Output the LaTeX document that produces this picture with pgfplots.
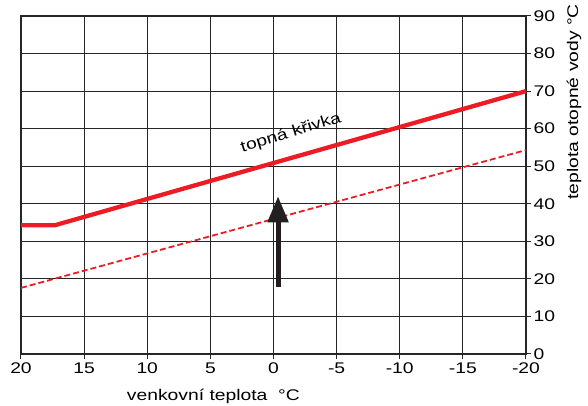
\documentclass[border=0pt]{standalone}
\usepackage{pgfplots}
\pgfplotsset{compat=1.18}
\usepackage{fontspec}
\setmainfont{Liberation Sans}[FakeStretch=1.25]
\usetikzlibrary{arrows.meta}
\definecolor{cred}{RGB}{237,28,36}
\definecolor{carrow}{RGB}{35,31,32}
\newcommand{\lf}{\fontsize{15.5}{17}\selectfont}
\begin{document}
\begin{tikzpicture}
\begin{axis}[
  scale only axis,
  width=505bp, height=338bp,
  xmin=-20, xmax=20, x dir=reverse,
  ymin=0, ymax=90,
  xtick={-20,-15,...,20},
  xticklabels={-20,-15,-10,-5,0,5,10,15,20},
  ytick={0,10,...,90},
  yticklabels={0,10,20,30,40,50,60,70,80,90},
  xtick pos=bottom, ytick pos=right,
  yticklabel pos=right,
  tick align=outside,
  major tick length=5bp,
  grid=major,
  grid style={black!85, line width=1bp},
  axis line style={black!85, line width=1.1bp},
  tick style={black!85, line width=1bp},
  tick label style={font=\lf},
  yticklabel style={xshift=-1bp},
  clip=false,
]
\addplot[cred, line width=4.3bp] coordinates {(20,34.3) (17.3,34.3) (-20,70)};
\addplot[cred, line width=1.8bp, dash pattern=on 6bp off 3bp] coordinates {(20,17.6) (-20,54.3)};
\addplot[carrow, line width=5bp, -{Triangle[length=26bp,width=20bp]}] coordinates {(-0.36,17.8) (-0.36,42)};
\node[rotate=17, font=\lf] at (axis cs:-1.39,58.8) {topná křivka};
\coordinate (xl) at (rel axis cs:0.381,0);
\coordinate (yl) at (rel axis cs:1,0.746);
\coordinate (bl) at (rel axis cs:0,0);
\coordinate (tr) at (rel axis cs:1,1);
\end{axis}
\node[font=\lf] at ([yshift=-42bp]xl) {venkovní teplota \ °C};
\node[rotate=90, font=\lf] at ([xshift=48bp]yl) {teplota otopné vody °C};
\pgfresetboundingbox
\path ([xshift=-21bp,yshift=-52bp]bl) rectangle ([xshift=62bp,yshift=16bp]tr);
\end{tikzpicture}
\end{document}
